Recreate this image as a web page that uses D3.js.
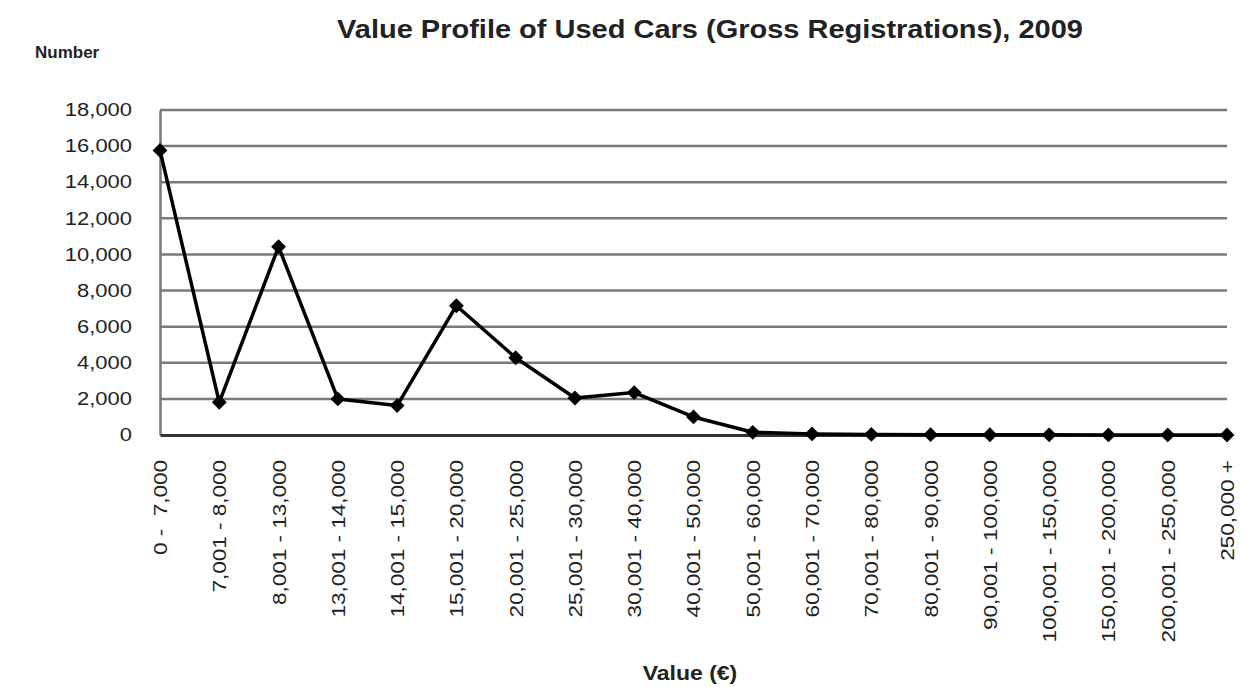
<!DOCTYPE html>
<html>
<head>
<meta charset="utf-8">
<script src="https://cdn.jsdelivr.net/npm/d3@7"></script>
<style>
    body { margin: 0; background: #fff; }
    text { font-family: "Liberation Sans", Arial, sans-serif; fill: #222; }
</style>
</head>
<body>
<div id="chart"></div>
<script>
let categories = ['0 -\u00a0 7,000', '7,001 - 8,000', '8,001 - 13,000', '13,001 - 14,000', '14,001 - 15,000',
    '15,001 - 20,000', '20,001 - 25,000', '25,001 - 30,000', '30,001 - 40,000', '40,001 - 50,000',
    '50,001 - 60,000', '60,001 - 70,000', '70,001 - 80,000', '80,001 - 90,000', '90,001 - 100,000',
    '100,001 - 150,000', '150,001 - 200,000', '200,001 - 250,000', '250,000 +'];

let registrations = [15760, 1810, 10430, 2000, 1630, 7160, 4280, 2050, 2350, 1000,
    150, 60, 30, 20, 15, 10, 5, 3, 2];

let y_ticks = [0, 2000, 4000, 6000, 8000, 10000, 12000, 14000, 16000, 18000];

let title = 'Value Profile of Used Cars (Gross Registrations), 2009';

function draw_chart() {
    let width = 1241, height = 687;
    let left = 160, right = 1227, top = 110, bottom = 435;

    let svg = d3.select('#chart')
        .append('svg')
        .attr('width', width)
        .attr('height', height);

    let x = d3.scalePoint()
        .domain(categories)
        .range([left, right])
        .padding(0);

    let y = d3.scaleLinear()
        .domain([0, 18000])
        .range([bottom, top]);

    // gridlines
    svg.append('g')
        .selectAll('line')
        .data(y_ticks.filter(d => d > 0))
        .join('line')
        .attr('x1', left)
        .attr('x2', right)
        .attr('y1', d => y(d))
        .attr('y2', d => y(d))
        .attr('stroke', '#7a7a7a')
        .attr('stroke-width', 2.5);

    // y axis
    let yAxis = svg.append('g')
        .attr('transform', `translate(${left},0)`)
        .call(d3.axisLeft(y).tickValues(y_ticks).tickFormat(d3.format(',')).tickSize(0));
    yAxis.select('.domain')
        .attr('stroke', '#7a7a7a')
        .attr('stroke-width', 2.5);
    yAxis.selectAll('text')
        .attr('x', null)
        .attr('transform', 'translate(-28,0) scale(1.22,1)')
        .attr('font-size', 18)
        .attr('font-family', '"Liberation Sans", Arial, sans-serif')
        .attr('fill', '#2a2a2a');

    // x axis
    let xAxis = svg.append('g')
        .attr('transform', `translate(0,${bottom})`)
        .call(d3.axisBottom(x).tickSize(0));
    xAxis.select('.domain')
        .attr('stroke', '#333')
        .attr('stroke-width', 3);
    xAxis.selectAll('text')
        .attr('y', null)
        .attr('dy', '0.36em')
        .attr('text-anchor', 'end')
        .attr('transform', 'translate(0,25) rotate(-90) scale(1.25,1)')
        .attr('font-size', 18)
        .attr('font-family', '"Liberation Sans", Arial, sans-serif')
        .attr('fill', '#2a2a2a');

    // line
    let line = d3.line()
        .x((d, i) => x(categories[i]))
        .y(d => y(d));

    svg.append('path')
        .datum(registrations)
        .attr('d', line)
        .attr('fill', 'none')
        .attr('stroke', '#000')
        .attr('stroke-width', 3.5)
        .attr('stroke-linejoin', 'round');

    let diamond = d3.symbol().type(d3.symbolSquare).size(110);
    svg.append('g')
        .selectAll('path')
        .data(registrations)
        .join('path')
        .attr('d', diamond)
        .attr('transform', (d, i) => `translate(${x(categories[i])},${y(d)}) rotate(45)`)
        .attr('fill', '#000');

    // titles
    svg.append('text')
        .attr('transform', 'translate(710,38) scale(1.16,1)')
        .attr('text-anchor', 'middle')
        .attr('font-size', 25)
        .attr('font-weight', 'bold')
        .text(title);

    svg.append('text')
        .attr('x', 35)
        .attr('y', 58)
        .attr('font-size', 17)
        .attr('font-weight', 'bold')
        .text('Number');

    svg.append('text')
        .attr('transform', 'translate(690,680) scale(1.15,1)')
        .attr('text-anchor', 'middle')
        .attr('font-size', 20)
        .attr('font-weight', 'bold')
        .text('Value (€)');
}

draw_chart();
</script>
</body>
</html>
